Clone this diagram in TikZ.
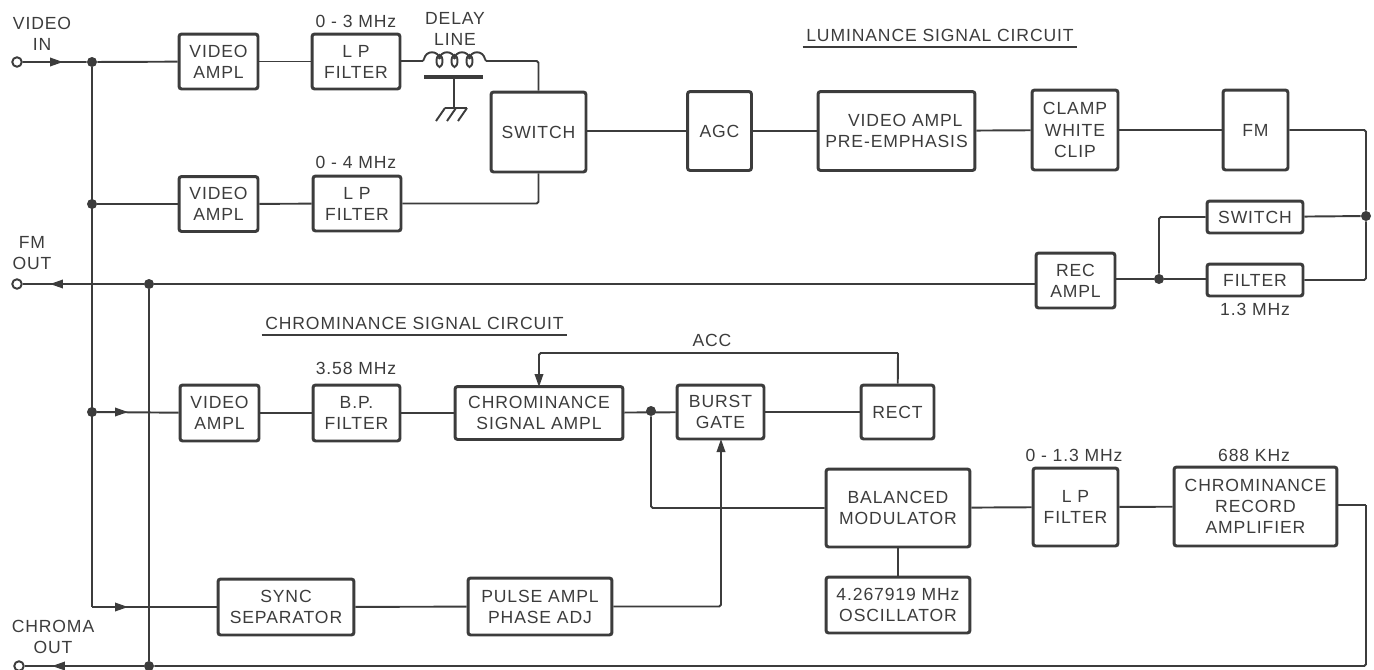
\documentclass[tikz,border=0pt]{standalone}
\usepackage{fontspec}
\setmainfont[LetterSpace=5]{Liberation Sans}
\usetikzlibrary{arrows.meta}
\definecolor{inkgrey}{HTML}{3C3C3C}
\begin{document}
\begin{tikzpicture}[x=0.02cm,y=-0.02cm,color=inkgrey,
  every node/.style={font=\fontsize{10}{12}\selectfont,align=center,text=inkgrey},
  blockbox/.style={draw,line width=1.7pt,inner sep=0pt,rounded corners=1.5pt},
  sigline/.style={line width=1.1pt,rounded corners=1pt},
  sigarrow/.style={line width=1.1pt,rounded corners=1pt,-{Triangle[length=0.26cm,width=0.17cm]}},
  jdot/.style={circle,fill=inkgrey,inner sep=0pt,minimum size=0.2cm},
  port/.style={circle,draw,line width=1.1pt,fill=white,inner sep=0pt,minimum size=0.19cm}]
  \useasboundingbox (0,0) rectangle (1374,670);
  % luminance blocks
  \node[blockbox,minimum width=1.58cm,minimum height=1.1cm] (ampla) at (218.5,61.5) {VIDEO\\AMPL};
  \node[blockbox,minimum width=1.76cm,minimum height=1.1cm] (lpa) at (356,61.5) {L P\\FILTER};
  \node[blockbox,minimum width=1.58cm,minimum height=1.1cm] (amplb) at (218.5,204) {VIDEO\\AMPL};
  \node[blockbox,minimum width=1.76cm,minimum height=1.1cm] (lpb) at (357,203.5) {L P\\FILTER};
  \node[blockbox,minimum width=1.9cm,minimum height=1.6cm] (switcha) at (538.5,132) {SWITCH};
  \node[blockbox,minimum width=1.28cm,minimum height=1.58cm] (agc) at (719.5,131) {AGC};
  \node[blockbox,minimum width=3.14cm,minimum height=1.58cm] (preamp) at (896.5,131) {\hspace*{10pt}VIDEO AMPL\\PRE-EMPHASIS};
  \node[blockbox,minimum width=1.72cm,minimum height=1.6cm] (clamp) at (1075,130) {CLAMP\\WHITE\\CLIP};
  \node[blockbox,minimum width=1.3cm,minimum height=1.6cm] (fm) at (1255.5,130) {FM};
  \node[blockbox,minimum width=1.92cm,minimum height=0.64cm] (switchb) at (1255,217) {SWITCH};
  \node[blockbox,minimum width=1.92cm,minimum height=0.64cm] (filter) at (1255,280) {FILTER};
  \node[blockbox,minimum width=1.58cm,minimum height=1.1cm] (recamp) at (1075.5,280.5) {REC\\AMPL};
  % chrominance blocks
  \node[blockbox,minimum width=1.58cm,minimum height=1.12cm] (amplc) at (219.5,413) {VIDEO\\AMPL};
  \node[blockbox,minimum width=1.74cm,minimum height=1.12cm] (bpf) at (356.5,413) {B.P.\\FILTER};
  \node[blockbox,minimum width=3.36cm,minimum height=1.06cm] (chramp) at (539,413) {CHROMINANCE\\SIGNAL AMPL};
  \node[blockbox,minimum width=1.74cm,minimum height=1.08cm] (burst) at (720.5,412) {BURST\\GATE};
  \node[blockbox,minimum width=1.46cm,minimum height=1.08cm] (rect) at (897.5,412) {RECT};
  \node[blockbox,minimum width=2.88cm,minimum height=1.56cm] (balmod) at (898,508) {BALANCED\\MODULATOR};
  \node[blockbox,minimum width=1.7cm,minimum height=1.56cm] (lpc) at (1075.5,507) {L P\\FILTER};
  \node[blockbox,minimum width=3.26cm,minimum height=1.58cm] (recamb) at (1255.5,506.5) {CHROMINANCE\\RECORD\\AMPLIFIER};
  \node[blockbox,minimum width=2.88cm,minimum height=1.12cm] (osc) at (898,605) {4.267919 MHz\\OSCILLATOR};
  \node[blockbox,minimum width=2.72cm,minimum height=1.12cm] (sync) at (286,607) {SYNC\\SEPARATOR};
  \node[blockbox,minimum width=2.88cm,minimum height=1.14cm] (pulse) at (540,606.5) {PULSE AMPL\\PHASE ADJ};
  % labels
  \node (lblvideoin) at (42,34) {VIDEO\\IN};
  \node (lblfmout) at (32,253) {FM\\OUT};
  \node (lblchromaout) at (53,637) {CHROMA\\OUT};
  \node (lblthree) at (356,21) {0 - 3 MHz};
  \node (lbldelay) at (455,29) {DELAY\\LINE};
  \node (lblfour) at (356,162) {0 - 4 MHz};
  \node (lblthirteen) at (1255,309) {1.3 MHz};
  \node (lblburst) at (356,368) {3.58 MHz};
  \node (lblacc) at (712,340) {ACC};
  \node (lbllp) at (1074,455) {0 - 1.3 MHz};
  \node (lblkhz) at (1254,455) {688 KHz};
  \node[inner sep=0pt,minimum width=5.48cm] (lumtitle) at (940,35) {LUMINANCE SIGNAL CIRCUIT};
  \node[inner sep=0pt,minimum width=6.1cm] (chrtitle) at (414.5,323) {CHROMINANCE SIGNAL CIRCUIT};
  \draw[sigline] ([yshift=-3pt]lumtitle.south west) -- ([yshift=-3pt]lumtitle.south east);
  \draw[sigline] ([yshift=-3pt]chrtitle.south west) -- ([yshift=-3pt]chrtitle.south east);
  % ports and junctions
  \node[port] (videoin) at (17,62) {};
  \node[port] (fmout) at (17,284) {};
  \node[port] (chromaout) at (19,666) {};
  \node[jdot] (dota) at (92,62) {};
  \node[jdot] (dotb) at (92,204) {};
  \node[jdot] (dotc) at (92,412) {};
  \node[jdot] (dotd) at (149,284) {};
  \node[jdot] (dote) at (149,666) {};
  \node[jdot] (dotf) at (1366,216) {};
  \node[jdot] (dotg) at (1159,279) {};
  \node[jdot] (doth) at (651,411) {};
  % input side
  \coordinate (tipa) at (63,62);
  \coordinate (tipb) at (50,284);
  \coordinate (tipc) at (128,412);
  \coordinate (tipd) at (128,607);
  \coordinate (tipe) at (52,666);
  \coordinate (busend) at (92,607);
  \draw[sigline] (videoin) -- (dota) -- (ampla);
  \draw[sigarrow] (videoin) -- (tipa);
  \draw[sigline] (dota) -- (busend);
  \draw[sigline] (dotb) -- (amplb);
  \draw[sigline] (dotc) -- (amplc);
  \draw[sigarrow] (dotc) -- (tipc);
  \draw[sigline] (busend) -- (sync);
  \draw[sigarrow] (busend) -- (tipd);
  \draw[sigline] (dotd) -- (fmout);
  \draw[sigarrow] (dotd) -- (tipb);
  \draw[sigline] (dotd) -- (dote);
  \draw[sigline] (dotd) -- (recamp.west |- dotd);
  \draw[sigline] (dote) -- (chromaout);
  \draw[sigarrow] (dote) -- (tipe);
  % delay line
  \coordinate (coilin) at (423,61);
  \coordinate (coilout) at (486,61);
  \coordinate (plate) at (454,77);
  \coordinate (gnd) at (454,108);
  \draw[sigline] (ampla) -- (lpa);
  \draw[sigline] (lpa.east |- coilin) -- (coilin);
  \foreach \cx in {432,447,462,477}
    \draw[sigline] (\cx-8,59) .. controls (\cx-6,50) and (\cx+6,50) .. (\cx+8,59);
  \foreach \cx in {439.5,454.5,469.5}
    \draw[sigline] (\cx,61) circle[x radius=3,y radius=6];
  \draw[sigline] (coilin) -- (424,59);
  \draw[sigline] (485,59) -- (coilout);
  \draw[line width=1.8pt] (424,77) -- (483,77);
  \draw[sigline] (plate) -- (gnd);
  \draw[sigline] (445,108) -- (467,108);
  \foreach \gx in {445,456,467}
    \draw[sigline] (\gx,108) -- (\gx-9,121);
  \draw[sigline] (coilout) -| (switcha.north);
  \draw[sigline] (amplb) -- (lpb);
  \draw[sigline] (lpb) -| (switcha.south);
  % luminance chain
  \draw[sigline] (switcha.east |- agc) -- (agc);
  \draw[sigline] (agc) -- (preamp);
  \draw[sigline] (preamp) -- (clamp);
  \draw[sigline] (clamp) -- (fm);
  \draw[sigline] (fm) -| (dotf);
  \draw[sigline] (switchb) -- (dotf);
  \draw[sigline] (filter) -| (dotf);
  \draw[sigline] (dotg) |- (switchb);
  \draw[sigline] (dotg) -- (filter.west |- dotg);
  \draw[sigline] (recamp.east |- dotg) -- (dotg);
  % chrominance chain
  \coordinate (accturn) at (898,353);
  \coordinate (acctip) at (539,387);
  \coordinate (gatetip) at (721,439);
  \coordinate (recturn) at (1366,505);
  \draw[sigline] (amplc) -- (bpf);
  \draw[sigline] (bpf) -- (chramp);
  \draw[sigline] (chramp) -- (burst);
  \draw[sigline] (burst) -- (rect);
  \draw[sigline] (rect) -- (accturn);
  \draw[sigarrow] (accturn) -| (acctip);
  \draw[sigline] (doth) |- (balmod);
  \draw[sigline] (balmod) -- (lpc);
  \draw[sigline] (lpc) -- (recamb);
  \draw[sigline] (recamb.east |- recturn) -- (recturn);
  \draw[sigline] (recturn) |- (dote);
  \draw[sigline] (balmod) -- (osc);
  \draw[sigline] (sync) -- (pulse);
  \draw[sigarrow] (pulse) -| (gatetip);
\end{tikzpicture}
\end{document}
